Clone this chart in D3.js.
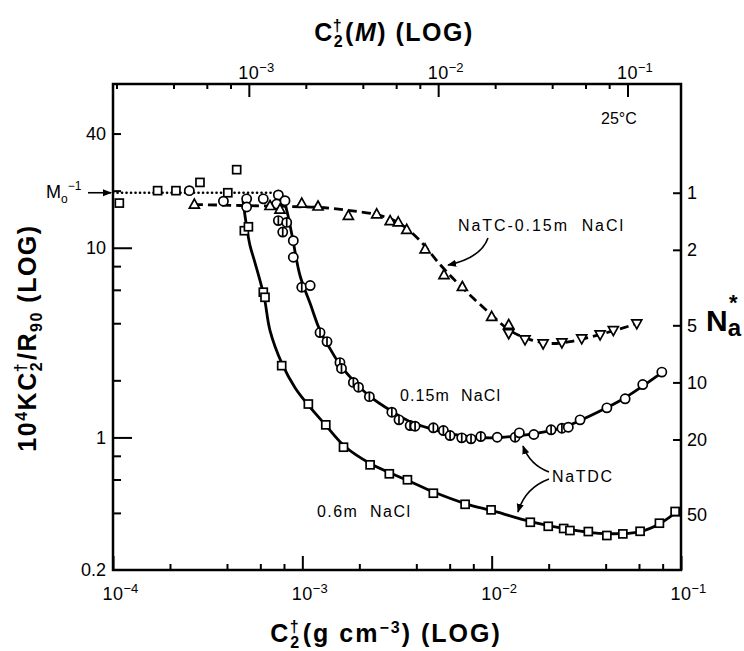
<!DOCTYPE html>
<html><head><meta charset="utf-8">
<script src="https://cdn.jsdelivr.net/npm/d3@7"></script>
<style>
body{margin:0;background:#fff;}
svg{display:block;font-family:"Liberation Sans",Arial,sans-serif;}
</style></head><body>
<svg id="chart" width="744" height="651"></svg>
<script>
// ---------------- data ----------------
// NaTDC, 0.6 m NaCl (squares)
const sq06X = [1.08e-4,1.72e-4,2.15e-4,2.88e-4,4.04e-4,4.50e-4,4.94e-4,5.19e-4,6.22e-4,6.35e-4,7.78e-4,1.076e-3,1.33e-3,1.65e-3,2.28e-3,2.88e-3,3.59e-3,4.92e-3,7.24e-3,9.93e-3,1.60e-2,1.99e-2,2.40e-2,2.59e-2,3.24e-2,4.06e-2,4.93e-2,6.08e-2,7.69e-2,9.31e-2];
const sq06Y = [17.2,20.0,20.0,22.1,19.5,25.8,12.3,12.9,5.83,5.48,2.39,1.50,1.165,0.888,0.717,0.643,0.598,0.508,0.444,0.415,0.357,0.340,0.331,0.323,0.319,0.304,0.310,0.320,0.353,0.407];
// NaTDC, 0.15 m NaCl (circles; bar = circle with vertical bar)
const c15X = [2.53e-4,3.83e-4,5.08e-4,5.08e-4,6.22e-4,7.47e-4,7.32e-4,8.10e-4,7.47e-4,8.27e-4,7.88e-4,8.96e-4,8.96e-4,9.93e-4,1.10e-3,1.24e-3,1.35e-3,1.58e-3,1.61e-3,1.86e-3,1.98e-3,2.26e-3,2.97e-3,3.24e-3,3.71e-3,3.94e-3,4.92e-3,5.56e-3,6.03e-3,6.95e-3,7.78e-3,8.76e-3,1.07e-2,1.33e-2,1.40e-2,1.67e-2,2.06e-2,2.35e-2,2.54e-2,2.93e-2,4.06e-2,5.07e-2,6.28e-2,7.92e-2];
const c15Y = [20.0,17.6,18.1,16.4,18.1,19.0,17.0,17.7,13.9,13.6,12.1,10.9,8.91,6.19,6.32,3.57,3.20,2.48,2.31,1.95,1.84,1.64,1.358,1.238,1.155,1.146,1.124,1.087,1.023,0.995,0.983,1.011,1.002,1.002,1.057,1.036,1.097,1.118,1.132,1.238,1.432,1.598,1.90,2.21];
const c15Bar = [0,0,0,0,0,0,0,0,1,1,1,0,0,1,0,1,1,1,1,1,1,1,1,1,1,1,1,1,1,1,1,1,0,1,0,0,1,1,0,0,0,0,0,0];
// NaTC, 0.15 m NaCl (up triangles, then down triangles)
const tcUpX = [2.69e-4,6.75e-4,7.62e-4,9.93e-4,1.21e-3,1.75e-3,2.47e-3,2.91e-3,3.21e-3,3.56e-3,4.45e-3,5.60e-3,7.00e-3,1.00e-2,1.23e-2];
const tcUpY = [17.0,16.7,16.0,17.2,16.6,14.8,15.1,13.9,13.7,12.5,9.87,7.22,6.25,4.35,3.94];
const tcDnX = [1.23e-2,1.50e-2,1.87e-2,2.35e-2,2.99e-2,3.74e-2,4.39e-2,5.84e-2];
const tcDnY = [3.52,3.27,3.11,3.15,3.31,3.47,3.66,3.97];
// drawn curves
const fit06X = [4.86e-4,5.04e-4,5.29e-4,5.62e-4,6.28e-4,6.75e-4,7.81e-4,9.15e-4,1.07e-3,1.32e-3,1.68e-3,2.28e-3,3.71e-3,5.02e-3,7.24e-3,1.04e-2,1.60e-2,2.59e-2,3.97e-2,6.08e-2,7.76e-2,0.100];
const fit06Y = [17.7,13.6,10.3,8.36,5.53,3.66,2.45,1.83,1.49,1.17,0.895,0.729,0.586,0.512,0.448,0.407,0.360,0.327,0.311,0.319,0.352,0.422];
const fit15X = [7.91e-4,8.40e-4,8.93e-4,9.72e-4,1.10e-3,1.24e-3,1.40e-3,1.58e-3,1.90e-3,2.28e-3,2.91e-3,3.71e-3,4.73e-3,6.41e-3,8.69e-3,1.11e-2,1.41e-2,1.80e-2,2.30e-2,2.93e-2,3.97e-2,5.07e-2,6.46e-2,7.95e-2];
const fit15Y = [18.6,14.8,10.9,7.14,5.08,3.66,2.94,2.42,1.95,1.64,1.39,1.21,1.114,1.036,0.999,0.999,1.023,1.061,1.114,1.228,1.42,1.62,1.90,2.20];
const fitTCX = [2.68e-4,4.69e-4,8.61e-4,1.24e-3,1.79e-3,2.57e-3,3.28e-3,4.18e-3,5.34e-3,6.81e-3,9.81e-3,1.25e-2,1.60e-2,2.03e-2,2.59e-2,3.74e-2,5.86e-2];
const fitTCY = [16.9,16.7,16.5,16.3,15.7,14.8,13.4,10.9,8.15,6.32,4.50,3.66,3.28,3.13,3.20,3.49,3.98];
// monomer level M0^-1 and dotted extent
const m0inv = 19.5;
const dottedX = [1e-4, 7.9e-4];
const molarMass = 521.7; // g/mol, converts g cm^-3 <-> M
// ticks
const xMajor = [1e-4,1e-3,1e-2,1e-1];
const xMajorExp = ["-4","-3","-2","-1"];
const xMinor = [2e-4,4e-4,6e-4,8e-4,2e-3,4e-3,6e-3,8e-3,2e-2,4e-2,6e-2,8e-2];
const topMajor = [1e-3,1e-2,1e-1];
const topMajorExp = ["-3","-2","-1"];
const topMinor = [2e-4,4e-4,6e-4,8e-4,2e-3,4e-3,6e-3,8e-3,2e-2,4e-2,6e-2,8e-2];
const yMajor = [1,10];
const yMinor = [0.4,0.6,0.8,2,4,6,8,20,40];
const yLabels = [0.2,1,10,40];
const naTicks = [1,2,5,10,20,50];

// ---------------- layout ----------------
const L=113,R=681,T=84,B=570;
const svg = d3.select("#chart");
const x = d3.scaleLog().domain([1e-4,1e-1]).range([L,R]);
const y = d3.scaleLog().domain([0.2,73]).range([B,T]);
const xTop = d3.scaleLog().domain([1e-4*1000/molarMass, 1e-1*1000/molarMass]).range([L,R]);
const yN = d3.scaleLog().domain([m0inv/0.2, m0inv/73]).range([B,T]);

function styleAxis(g){ g.select(".domain").remove(); g.selectAll("line").attr("stroke","#000").attr("stroke-width",2); }

// bottom
svg.append("g").attr("transform",`translate(0,${B})`).call(d3.axisBottom(x).tickValues(xMajor).tickSize(-14).tickFormat("")).call(styleAxis);
svg.append("g").attr("transform",`translate(0,${B})`).call(d3.axisBottom(x).tickValues(xMinor).tickSize(-6).tickFormat("")).call(styleAxis);
// top
svg.append("g").attr("transform",`translate(0,${T})`).call(d3.axisTop(xTop).tickValues(topMajor).tickSize(-13).tickFormat("")).call(styleAxis);
svg.append("g").attr("transform",`translate(0,${T})`).call(d3.axisTop(xTop).tickValues(topMinor).tickSize(-5).tickFormat("")).call(styleAxis);
// left
svg.append("g").attr("transform",`translate(${L},0)`).call(d3.axisLeft(y).tickValues(yMajor).tickSize(-19).tickFormat("")).call(styleAxis);
svg.append("g").attr("transform",`translate(${L},0)`).call(d3.axisLeft(y).tickValues(yMinor).tickSize(-8).tickFormat("")).call(styleAxis);
// right
svg.append("g").attr("transform",`translate(${R},0)`).call(d3.axisRight(yN).tickValues(naTicks).tickSize(-8).tickFormat("")).call(styleAxis);

// frame
svg.append("rect").attr("x",L).attr("y",T).attr("width",R-L).attr("height",B-T)
  .attr("fill","none").attr("stroke","#000").attr("stroke-width",2.5);

// tick labels ("10" centred on the tick, exponent to its right)
const lab = svg.append("g").attr("font-size",18).attr("fill","#000");
const tenHalf = 10.5;
xMajor.forEach((v,i)=>{
  const t = lab.append("text").attr("x",x(v)-tenHalf).attr("y",B+30).attr("text-anchor","start");
  t.append("tspan").attr("letter-spacing",0.5).text("10");
  t.append("tspan").attr("dy",-7).attr("font-size",13).text("\u2212"+xMajorExp[i].slice(1));
});
topMajor.forEach((v,i)=>{
  const t = lab.append("text").attr("x",xTop(v)-tenHalf).attr("y",T-5).attr("text-anchor","start");
  t.append("tspan").attr("letter-spacing",0.5).text("10");
  t.append("tspan").attr("dy",-7).attr("font-size",13).text("\u2212"+topMajorExp[i].slice(1));
});
yLabels.forEach(v=>{
  lab.append("text").attr("x",L-7).attr("y",y(v)).attr("dy","0.36em").attr("text-anchor","end").text(v);
});
naTicks.forEach(v=>{
  lab.append("text").attr("x",R+6).attr("y",yN(v)).attr("dy","0.36em").attr("text-anchor","start").text(v);
});

// axis titles
function sub2dagger(t, size){
  t.append("tspan").attr("font-size",size).attr("dy",6).text("2");
  t.append("tspan").attr("font-size",size).attr("dx",-size*0.62-1.5).attr("dy",-16).text("\u2020");
}
// top title
{
  const t = svg.append("text").attr("x",394).attr("y",41).attr("text-anchor","middle").attr("font-weight","bold").attr("font-size",25).attr("letter-spacing",1.5);
  t.append("tspan").text("C");
  sub2dagger(t,16);
  t.append("tspan").attr("dy",10).attr("dx",2).text("(");
  t.append("tspan").attr("font-style","italic").text("M");
  t.append("tspan").text(") (LOG)");
}
// bottom title
{
  const t = svg.append("text").attr("x",386).attr("y",642).attr("text-anchor","middle").attr("font-weight","bold").attr("font-size",25).attr("letter-spacing",2);
  t.append("tspan").text("C");
  sub2dagger(t,16);
  t.append("tspan").attr("dy",10).attr("dx",2).text("(g cm");
  t.append("tspan").attr("dy",-9).attr("font-size",16).text("\u22123");
  t.append("tspan").attr("dy",9).text(") (LOG)");
}
// left title
{
  const t = svg.append("text").attr("transform","translate(36,338) rotate(-90)").attr("text-anchor","middle").attr("font-weight","bold").attr("font-size",25).attr("letter-spacing",1.5);
  t.append("tspan").text("10");
  t.append("tspan").attr("dy",-9).attr("font-size",16).text("4");
  t.append("tspan").attr("dy",9).text("KC");
  sub2dagger(t,16);
  t.append("tspan").attr("dy",10).attr("dx",2).text("/R");
  t.append("tspan").attr("dy",6).attr("font-size",16).text("90");
  t.append("tspan").attr("dy",-6).text(" (LOG)");
}
// right title N_a*
{
  const t = svg.append("text").attr("x",706).attr("y",331).attr("font-weight","bold").attr("font-size",30);
  t.append("tspan").text("N");
  t.append("tspan").attr("dy",5).attr("font-size",24).text("a");
  t.append("tspan").attr("dx",-12).attr("dy",-26).attr("font-size",22).text("*");
}

// ---------------- lines ----------------
const line = d3.line().x(d=>x(d[0])).y(d=>y(d[1])).curve(d3.curveCatmullRom.alpha(0.5));
svg.append("path").datum(d3.zip(dottedX,[m0inv,m0inv])).attr("d",d3.line().x(d=>x(d[0])).y(d=>y(d[1])))
  .attr("fill","none").attr("stroke","#000").attr("stroke-width",2.6).attr("stroke-linecap","round").attr("stroke-dasharray","0.1,4.4");
svg.append("path").datum(d3.zip(fit06X,fit06Y)).attr("d",line).attr("fill","none").attr("stroke","#000").attr("stroke-width",2.8);
svg.append("path").datum(d3.zip(fit15X,fit15Y)).attr("d",line).attr("fill","none").attr("stroke","#000").attr("stroke-width",2.8);
svg.append("path").datum(d3.zip(fitTCX,fitTCY)).attr("d",line).attr("fill","none").attr("stroke","#000").attr("stroke-width",2.8).attr("stroke-dasharray","9,5");

// ---------------- markers ----------------
const mk = svg.append("g").attr("fill","#fff").attr("stroke","#000").attr("stroke-width",1.7);
d3.zip(sq06X,sq06Y).forEach(d=>{
  mk.append("rect").attr("x",x(d[0])-4).attr("y",y(d[1])-4).attr("width",8).attr("height",8);
});
d3.zip(c15X,c15Y,c15Bar).forEach(d=>{
  mk.append("circle").attr("cx",x(d[0])).attr("cy",y(d[1])).attr("r",4.6);
  if(d[2]) mk.append("line").attr("x1",x(d[0])).attr("x2",x(d[0])).attr("y1",y(d[1])-4.6).attr("y2",y(d[1])+4.6);
});
const up = "M0,-5L5,4L-5,4Z", dn = "M0,5L5,-4L-5,-4Z";
d3.zip(tcUpX,tcUpY).forEach(d=>{
  mk.append("path").attr("d",up).attr("transform",`translate(${x(d[0])},${y(d[1])})`);
});
d3.zip(tcDnX,tcDnY).forEach(d=>{
  mk.append("path").attr("d",dn).attr("transform",`translate(${x(d[0])},${y(d[1])})`);
});

// ---------------- annotations ----------------
svg.append("defs").append("marker").attr("id","ah").attr("viewBox","0 0 10 10").attr("refX",9).attr("refY",5)
  .attr("markerWidth",9).attr("markerHeight",9).attr("orient","auto-start-reverse").attr("markerUnits","userSpaceOnUse")
  .append("path").attr("d","M0,1L10,5L0,9Z").attr("fill","#000");
const ann = svg.append("g").attr("font-size",16).attr("fill","#000");
// M0^-1
{
  const t = ann.append("text").attr("x",46).attr("y",y(m0inv)+5).attr("font-size",18);
  t.append("tspan").text("M");
  t.append("tspan").attr("dy",5).attr("font-size",12).text("o");
  t.append("tspan").attr("dy",-13).attr("font-size",12).text("\u22121");
  ann.append("line").attr("x1",88).attr("x2",111).attr("y1",y(m0inv)).attr("y2",y(m0inv))
    .attr("stroke","#000").attr("stroke-width",1.6).attr("marker-end","url(#ah)");
}
ann.append("text").attr("x",458).attr("y",231).attr("xml:space","preserve").attr("textLength",165).attr("lengthAdjust","spacing").text("NaTC-0.15m  NaCl");
ann.append("path").attr("d","M488,238 Q481,258 448,265").attr("fill","none").attr("stroke","#000").attr("stroke-width",1.6).attr("marker-end","url(#ah)");
ann.append("text").attr("x",400).attr("y",401).attr("xml:space","preserve").attr("textLength",100).attr("lengthAdjust","spacing").text("0.15m  NaCl");
ann.append("text").attr("x",317).attr("y",517).attr("xml:space","preserve").attr("textLength",93).attr("lengthAdjust","spacing").text("0.6m  NaCl");
ann.append("text").attr("x",552).attr("y",482).attr("textLength",60).attr("lengthAdjust","spacing").text("NaTDC");
ann.append("path").attr("d","M549,472 Q530,465 523,446").attr("fill","none").attr("stroke","#000").attr("stroke-width",1.6).attr("marker-end","url(#ah)");
ann.append("path").attr("d","M549,479 Q525,488 518,512").attr("fill","none").attr("stroke","#000").attr("stroke-width",1.6).attr("marker-end","url(#ah)");
ann.append("text").attr("x",601).attr("y",124).attr("font-size",16).text("25\u00B0C");
</script>
</body></html>
